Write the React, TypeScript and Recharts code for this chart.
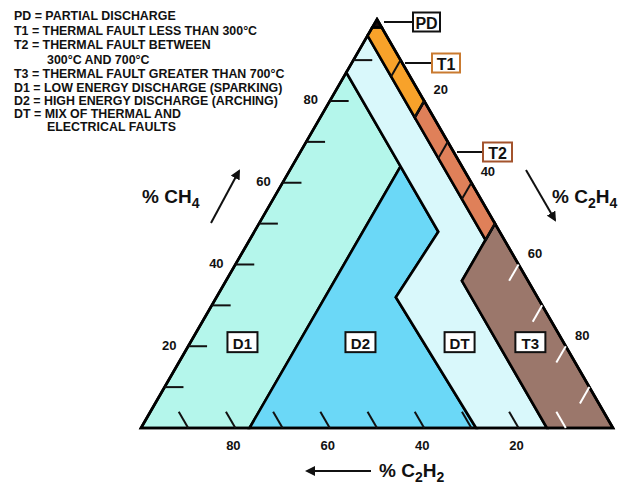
import React from 'react';
import { ScatterChart, Scatter, XAxis, YAxis } from 'recharts';

// Duval triangle, every point is [CH4, C2H4, C2H2] in %
type Tern = [number, number, number];

const ZONE_PD: Tern[] = [[100, 0, 0], [98, 2, 0], [98, 0, 2]];
const ZONE_T1: Tern[] = [[98, 2, 0], [80, 20, 0], [76, 20, 4], [96, 0, 4], [98, 0, 2]];
const ZONE_T2: Tern[] = [[80, 20, 0], [50, 50, 0], [46, 50, 4], [76, 20, 4]];
const ZONE_T3: Tern[] = [[50, 50, 0], [0, 100, 0], [0, 86, 14], [36, 50, 14]];
const ZONE_D1: Tern[] = [[0, 0, 100], [0, 23, 77], [64, 23, 13], [87, 0, 13]];
const ZONE_D2: Tern[] = [[0, 23, 77], [0, 71, 29], [32, 38, 30], [48, 39, 13], [64, 23, 13]];
const ZONE_DT: Tern[] = [
  [87, 0, 13], [96, 0, 4], [46, 50, 4], [36, 50, 14], [0, 86, 14],
  [0, 71, 29], [32, 38, 30], [48, 39, 13], [64, 23, 13],
];
const OUTLINE: Tern[] = [[100, 0, 0], [0, 100, 0], [0, 0, 100]];

const TICKS = [10, 20, 30, 40, 50, 60, 70, 80, 90];
const TICK_LABELS = [20, 40, 60, 80];
const TICK_LEN = 4;

const ZONE_NAMES = ['D1', 'D2', 'DT', 'T3'];
const ZONE_NAME_AT: Tern[] = [[21, 11, 68], [21, 36, 43], [21, 57, 22], [21, 72, 7]];

const LEGEND = [
  'PD = PARTIAL DISCHARGE',
  'T1 = THERMAL FAULT LESS THAN 300°C',
  'T2 = THERMAL FAULT BETWEEN',
  '300°C AND 700°C',
  'T3 = THERMAL FAULT GREATER THAN 700°C',
  'D1 = LOW ENERGY DISCHARGE (SPARKING)',
  'D2 = HIGH ENERGY DISCHARGE (ARCHING)',
  'DT = MIX OF THERMAL AND',
  'ELECTRICAL FAULTS',
];
const LEGEND_Y = [20, 35, 49, 63.5, 78, 91.5, 104.5, 117.5, 131];
const LEGEND_INDENT = [false, false, false, true, false, false, false, false, true];

const COLORS = {
  PD: '#1a0a0a',
  T1: '#f8a22a',
  T2: '#df8059',
  T3: '#9b776b',
  D1: '#b4f6eb',
  D2: '#6bd8f7',
  DT: '#d9f8fb',
};

const FONT = "'Liberation Sans', Arial, Helvetica, sans-serif";
const SQ = Math.sqrt(3) / 2;
const toXY = (t: Tern) => ({ x: t[1] + t[0] / 2, y: t[0] * SQ });

const leftTick = (v: number): Tern[] => [[v, 0, 100 - v], [v, TICK_LEN, 100 - v - TICK_LEN]];
const bottomTick = (v: number): Tern[] => [[0, 100 - v, v], [TICK_LEN, 100 - v - TICK_LEN, v]];
const rightTick = (v: number): Tern[] => [[100 - v, v, 0], [100 - v - TICK_LEN, v, TICK_LEN]];

const noDot = () => <g />;

const polygonOf = (fill: string, width = 2.6) => (props: any) => (
  <polygon
    points={props.points.map((p: any) => `${p.x},${p.y}`).join(' ')}
    fill={fill}
    stroke="#000"
    strokeWidth={width}
    strokeLinejoin="miter"
  />
);

const segmentsOf = (stroke: string) => (props: any) => {
  const pts = props.points;
  const out = [];
  for (let i = 0; i + 1 < pts.length; i += 2) {
    out.push(
      <line key={i} x1={pts[i].x} y1={pts[i].y} x2={pts[i + 1].x} y2={pts[i + 1].y}
        stroke={stroke} strokeWidth={2} />
    );
  }
  return <g>{out}</g>;
};

const labelAt = (dx: number, dy: number) => (props: any) => (
  <text x={props.cx + dx} y={props.cy + dy} textAnchor="middle" dominantBaseline="central"
    fontFamily={FONT} fontWeight="bold" fontSize={13} fill="#111">
    {props.payload.label}
  </text>
);

const zoneBox = (props: any) => (
  <g>
    <rect x={props.cx - 15} y={props.cy - 10} width={30} height={20} fill="#fff" stroke="#111" strokeWidth={2} />
    <text x={props.cx} y={props.cy + 1} textAnchor="middle" dominantBaseline="central"
      fontFamily={FONT} fontWeight="bold" fontSize={15} fill="#111">
      {props.payload.label}
    </text>
  </g>
);

const zones: [Tern[], string][] = [
  [ZONE_D1, COLORS.D1],
  [ZONE_D2, COLORS.D2],
  [ZONE_DT, COLORS.DT],
  [ZONE_T3, COLORS.T3],
  [ZONE_T2, COLORS.T2],
  [ZONE_T1, COLORS.T1],
  [ZONE_PD, COLORS.PD],
];

const leftTickPts = TICKS.flatMap(leftTick).map(toXY);
const bottomBlack = TICKS.filter((v) => v > 14).flatMap(bottomTick).map(toXY);
const bottomWhite = TICKS.filter((v) => v <= 14).flatMap(bottomTick).map(toXY);
const rightBlack = TICKS.filter((v) => v <= 50).flatMap(rightTick).map(toXY);
const rightWhite = TICKS.filter((v) => v > 50).flatMap(rightTick).map(toXY);

const leftLabels = TICK_LABELS.map((v) => ({ ...toXY([v, 0, 100 - v]), label: v }));
const rightLabels = TICK_LABELS.map((v) => ({ ...toXY([100 - v, v, 0]), label: v }));
const bottomLabels = TICK_LABELS.map((v) => ({ ...toXY([0, 100 - v, v]), label: v }));
const zoneLabels = ZONE_NAME_AT.map((t, i) => ({ ...toXY(t), label: ZONE_NAMES[i] }));

// gas formula with subscript digits, e.g. [['% C','2'],['H','4']]
function Formula({ x, y, parts }: { x: number; y: number; parts: [string, string][] }) {
  const spans: React.ReactNode[] = [];
  parts.forEach(([main, sub], i) => {
    spans.push(<tspan key={'m' + i} dy={i === 0 ? 0 : -5}>{main}</tspan>);
    spans.push(<tspan key={'s' + i} dy={5} fontSize={14}>{sub}</tspan>);
  });
  return (
    <text x={x} y={y} fontFamily={FONT} fontWeight="bold" fontSize={19} fill="#111">
      {spans}
    </text>
  );
}

function Callout({ x1, x2, y, w, label, border }: { x1: number; x2: number; y: number; w: number; label: string; border: string }) {
  return (
    <g>
      <line x1={x1} y1={y} x2={x2} y2={y} stroke="#111" strokeWidth={2} />
      <rect x={x2} y={y - 9.5} width={w} height={19} fill="#fff" stroke={border} strokeWidth={2} />
      <text x={x2 + w / 2} y={y + 1} textAnchor="middle" dominantBaseline="central"
        fontFamily={FONT} fontWeight="bold" fontSize={16} fill="#111">{label}</text>
    </g>
  );
}

export default function App() {
  return (
    <div style={{ position: 'absolute', left: 0, top: 0, width: 632, height: 485, background: '#fff' }}>
      <ScatterChart width={632} height={485} margin={{ top: 0, right: 0, bottom: 0, left: 0 }}>
        <XAxis type="number" dataKey="x" domain={[-29.87, 104.03]} hide allowDataOverflow />
        <YAxis type="number" dataKey="y" domain={[-12.08, 90.68]} hide allowDataOverflow />
        {zones.map(([pts, fill], i) => (
          <Scatter key={i} data={pts.map(toXY)} shape={noDot} line={polygonOf(fill)} isAnimationActive={false} />
        ))}
        <Scatter data={OUTLINE.map(toXY)} shape={noDot} line={polygonOf('none', 2.6)} isAnimationActive={false} />
        <Scatter data={leftTickPts} shape={noDot} line={segmentsOf('#111')} isAnimationActive={false} />
        <Scatter data={bottomBlack} shape={noDot} line={segmentsOf('#111')} isAnimationActive={false} />
        <Scatter data={bottomWhite} shape={noDot} line={segmentsOf('#fff')} isAnimationActive={false} />
        <Scatter data={rightBlack} shape={noDot} line={segmentsOf('#111')} isAnimationActive={false} />
        <Scatter data={rightWhite} shape={noDot} line={segmentsOf('#fff')} isAnimationActive={false} />
        <Scatter data={leftLabels} shape={labelAt(-19, -1)} isAnimationActive={false} />
        <Scatter data={rightLabels} shape={labelAt(16.5, -11)} isAnimationActive={false} />
        <Scatter data={bottomLabels} shape={labelAt(-2, 18)} isAnimationActive={false} />
        <Scatter data={zoneLabels} shape={zoneBox} isAnimationActive={false} />
      </ScatterChart>

      <svg width={632} height={485} style={{ position: 'absolute', left: 0, top: 0, pointerEvents: 'none' }}>
        <defs>
          <marker id="head" viewBox="0 0 10 10" refX="8" refY="5" markerWidth="5" markerHeight="5" orient="auto">
            <path d="M0,0 L10,5 L0,10 z" fill="#111" />
          </marker>
        </defs>
        {LEGEND.map((s, i) => (
          <text key={i} x={LEGEND_INDENT[i] ? 47 : 14} y={LEGEND_Y[i]} fontFamily={FONT}
            fontWeight="bold" fontSize={12.4} fill="#111">{s}</text>
        ))}

        <Formula x={142} y={203} parts={[['% CH', '4']]} />
        <line x1={211} y1={223} x2={239} y2={171} stroke="#111" strokeWidth={2} markerEnd="url(#head)" />

        <Formula x={552} y={203} parts={[['% C', '2'], ['H', '4']]} />
        <line x1={526} y1={170} x2={555} y2={220} stroke="#111" strokeWidth={2} markerEnd="url(#head)" />

        <Formula x={379} y={477} parts={[['% C', '2'], ['H', '2']]} />
        <line x1={371} y1={471} x2={307} y2={471} stroke="#111" strokeWidth={2} markerEnd="url(#head)" />

        <Callout x1={384} x2={413} y={22} w={27} label="PD" border="#111" />
        <Callout x1={405} x2={432} y={63} w={28} label="T1" border="#c97a30" />
        <Callout x1={457} x2={483} y={152} w={29} label="T2" border="#a3532c" />
      </svg>
    </div>
  );
}
